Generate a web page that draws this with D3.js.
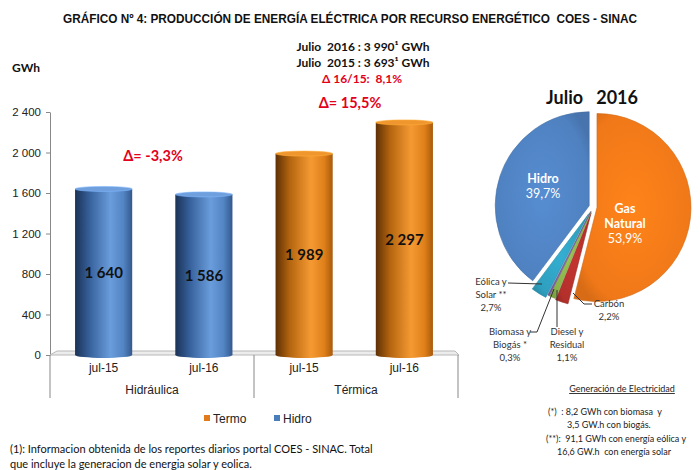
<!DOCTYPE html>
<html>
<head>
<meta charset="utf-8">
<script src="https://cdn.jsdelivr.net/npm/d3@7"></script>
<style>
  body { margin: 0; background: #fff; }
  svg { display: block; }
  text { white-space: pre; }
</style>
</head>
<body>
<svg id="chart" width="700" height="470"></svg>
<script>
// bar chart data
const periods = ["jul-15", "jul-16", "jul-15", "jul-16"];
const barSeries = ["Hidro", "Hidro", "Termo", "Termo"];
const barValues = [1640, 1586, 1989, 2297];
const groups = ["Hidráulica", "Térmica"];
const groupDeltas = ["Δ= -3,3%", "Δ= 15,5%"];
const yTicks = [0, 400, 800, 1200, 1600, 2000, 2400];
const legendItems = ["Termo", "Hidro"];

// pie data (Julio 2016, %)
const pieNames = ["Gas Natural", "Carbón", "Diesel y Residual", "Biomasa y Biogás *", "Eólica y Solar **", "Hidro"];
const pieShares = [53.9, 2.2, 1.1, 0.3, 2.7, 39.7];

const summaryLines = ["Julio  2016 : 3 990¹ GWh", "Julio  2015 : 3 693¹ GWh"];
const summaryDelta = "Δ 16/15:  8,1%";

const svg = d3.select("#chart");
const calibri = "Lato, 'Open Sans', sans-serif";
const arial = "'Liberation Sans', Arial, sans-serif";

const locale = d3.formatLocale({ decimal: ",", thousands: " ", grouping: [3], currency: ["", ""] });
const fmt = locale.format(",d");

// gradients for the cylinders
const defs = svg.append("defs");
function cyl(id, stops) {
  const g = defs.append("linearGradient").attr("id", id).attr("x1", 0).attr("x2", 1).attr("y1", 0).attr("y2", 0);
  stops.forEach(s => g.append("stop").attr("offset", s[0]).attr("stop-color", s[1]));
}
cyl("gHidro", [[0, "#1b3256"], [0.25, "#36609a"], [0.62, "#6a9ddc"], [0.85, "#5283c2"], [1, "#33598d"]]);
cyl("gTermo", [[0, "#5e3005"], [0.25, "#b4650f"], [0.62, "#f59a33"], [0.85, "#e0801a"], [1, "#a85a0c"]]);
const barColor = { Hidro: "#4a7ebb", Termo: "#e07a1a" };
const barTop = { Hidro: "#6f9fdc", Termo: "#f0962e" };

// title
svg.append("text")
  .attr("x", 350).attr("y", 23)
  .attr("text-anchor", "middle")
  .attr("font-family", "'Liberation Sans Narrow', " + arial)
  .attr("font-weight", "bold").attr("font-size", 12.5)
  .attr("textLength", 574).attr("lengthAdjust", "spacingAndGlyphs")
  .attr("fill", "#111")
  .text("GRÁFICO Nº 4: PRODUCCIÓN DE ENERGÍA ELÉCTRICA POR RECURSO ENERGÉTICO  COES - SINAC");

summaryLines.forEach((t, i) => {
  svg.append("text")
    .attr("x", 363).attr("y", 51 + i * 16)
    .attr("text-anchor", "middle")
    .attr("font-family", calibri).attr("font-weight", "bold").attr("font-size", 12)
    .attr("fill", "#111").text(t);
});
svg.append("text")
  .attr("x", 362).attr("y", 83)
  .attr("text-anchor", "middle")
  .attr("font-family", calibri).attr("font-weight", "bold").attr("font-size", 12)
  .attr("fill", "#e3001b").text(summaryDelta);

svg.append("text")
  .attr("x", 12).attr("y", 72)
  .attr("font-family", calibri).attr("font-weight", "bold").attr("font-size", 12)
  .attr("fill", "#111").text("GWh");

// scales
const y = d3.scaleLinear().domain([0, 2400]).range([355, 112]);
const x = d3.scaleBand().domain(d3.range(barValues.length)).range([50, 458])
  .paddingInner(0.43).paddingOuter(0.25);
const xGroup = d3.scaleBand().domain(groups).range([50, 458]);

// y axis
const yAxis = svg.append("g")
  .attr("transform", "translate(50,0)")
  .call(d3.axisLeft(y).tickValues(yTicks).tickFormat(fmt).tickSize(4).tickSizeOuter(0));
yAxis.select(".domain").attr("stroke", "#888");
yAxis.selectAll(".tick line").attr("stroke", "#888");
yAxis.selectAll(".tick text")
  .attr("font-family", arial).attr("font-size", 11.5).attr("fill", "#222").attr("x", -9);

// floor
svg.append("polygon")
  .attr("points", "57,351 455,351 459,355 50,355")
  .attr("fill", "#ececec").attr("stroke", "#b8b8b8").attr("stroke-width", 1);

// category separators
[50, xGroup("Térmica"), 458].forEach(px => {
  svg.append("line")
    .attr("x1", px).attr("x2", px).attr("y1", 355).attr("y2", 398)
    .attr("stroke", "#888");
});

// bars
const bars = svg.append("g").selectAll("g")
  .data(barValues.map((v, i) => ({ v, i, s: barSeries[i] })))
  .join("g");

bars.append("rect")
  .attr("x", d => x(d.i)).attr("width", x.bandwidth())
  .attr("y", d => y(d.v)).attr("height", d => y(0) - y(d.v))
  .attr("fill", d => `url(#g${d.s})`);
bars.append("ellipse")
  .attr("cx", d => x(d.i) + x.bandwidth() / 2).attr("cy", y(0))
  .attr("rx", x.bandwidth() / 2).attr("ry", 3)
  .attr("fill", d => `url(#g${d.s})`);
bars.append("ellipse")
  .attr("cx", d => x(d.i) + x.bandwidth() / 2).attr("cy", d => y(d.v))
  .attr("rx", x.bandwidth() / 2).attr("ry", 2.5)
  .attr("fill", d => barTop[d.s]).attr("stroke", d => d3.color(barTop[d.s]).brighter(0.4)).attr("stroke-width", 0.6);

bars.append("text")
  .attr("x", d => x(d.i) + x.bandwidth() / 2)
  .attr("y", d => (y(d.v) + y(0)) / 2 + 6)
  .attr("text-anchor", "middle")
  .attr("font-family", calibri).attr("font-weight", "bold").attr("font-size", 15)
  .attr("fill", "#111")
  .text(d => fmt(d.v));

// x labels
periods.forEach((p, i) => {
  svg.append("text")
    .attr("x", x(i) + x.bandwidth() / 2).attr("y", 372)
    .attr("text-anchor", "middle")
    .attr("font-family", arial).attr("font-size", 12).attr("fill", "#222")
    .text(p);
});
groups.forEach(g => {
  svg.append("text")
    .attr("x", xGroup(g) + xGroup.bandwidth() / 2).attr("y", 394)
    .attr("text-anchor", "middle")
    .attr("font-family", arial).attr("font-size", 12).attr("fill", "#222")
    .text(g);
});

// delta annotations
groups.forEach((g, gi) => {
  const vals = barValues.filter((v, i) => Math.floor(i / 2) === gi);
  const top = y(d3.max(vals));
  svg.append("text")
    .attr("x", gi === 0 ? 153 : 350)
    .attr("y", gi === 0 ? top - 28 : top - 14)
    .attr("text-anchor", "middle")
    .attr("font-family", calibri).attr("font-weight", "bold").attr("font-size", 14.5)
    .attr("fill", "#e3001b")
    .text(groupDeltas[gi]);
});

// legend
legendItems.forEach((name, i) => {
  const lx = 204 + i * 70;
  svg.append("rect").attr("x", lx).attr("y", 415).attr("width", 6).attr("height", 6)
    .attr("fill", barColor[name]);
  svg.append("text").attr("x", lx + 9).attr("y", 423)
    .attr("font-family", arial).attr("font-size", 12).attr("fill", "#222").text(name);
});

// footnote
["(1): Informacion obtenida de los reportes diarios portal COES - SINAC. Total",
 "que incluye la generacion de energia solar y eolica."].forEach((t, i) => {
  svg.append("text").attr("x", 10).attr("y", 453 + i * 15)
    .attr("font-family", calibri).attr("font-size", 11)
    .attr("fill", "#111").text(t);
});

// ---------- pie ----------
svg.append("text")
  .attr("x", 592).attr("y", 104)
  .attr("text-anchor", "middle")
  .attr("font-family", calibri).attr("font-weight", "bold").attr("font-size", 18)
  .attr("fill", "#111")
  .text("Julio   2016");

const pieColors = ["#f07818", "#b3302b", "#8ab34a", "#7b5fa4", "#2f9fbf", "#4f81c0"];
const explode = [4, 6, 5, 5, 8, 4];
const cx = 593, cy = 207, R = 94;

pieColors.forEach((c, i) => {
  const g = defs.append("radialGradient").attr("id", "p" + i)
    .attr("cx", 0.5).attr("cy", 0.5).attr("r", 0.6);
  g.append("stop").attr("offset", 0).attr("stop-color", d3.color(c).brighter(0.25));
  g.append("stop").attr("offset", 0.85).attr("stop-color", c);
  g.append("stop").attr("offset", 1).attr("stop-color", d3.color(c).darker(0.3));
});

const arcs = d3.pie().sort(null).value(d => d)(pieShares);
const arc = d3.arc().innerRadius(0).outerRadius(R);
const pieG = svg.append("g").attr("transform", `translate(${cx},${cy})`);

pieG.selectAll("path").data(arcs).join("path")
  .attr("d", arc)
  .attr("transform", (d, i) => {
    const a = (d.startAngle + d.endAngle) / 2;
    return `translate(${Math.sin(a) * explode[i]},${-Math.cos(a) * explode[i]})`;
  })
  .attr("fill", (d, i) => `url(#p${i})`)
  .attr("stroke", (d, i) => d3.color(pieColors[i]).darker(0.4))
  .attr("stroke-width", 0.6);

// inner labels
function inner(lines, px, py) {
  lines.forEach((l, k) => {
    svg.append("text")
      .attr("x", px).attr("y", py + k * 15)
      .attr("text-anchor", "middle")
      .attr("font-family", calibri).attr("font-size", 12.5)
      .attr("font-weight", l.b ? "bold" : "normal")
      .attr("fill", "#fff").text(l.t);
  });
}
const pct = i => pieShares[i].toFixed(1).replace(".", ",") + "%";
inner([{ t: "Hidro", b: true }, { t: pct(5) }], 543, 183);
inner([{ t: "Gas", b: true }, { t: "Natural", b: true }, { t: pct(0) }], 625, 213);

// outer labels with leaders
function outer(lines, px, py) {
  lines.forEach((t, k) => {
    svg.append("text")
      .attr("x", px).attr("y", py + k * 13)
      .attr("text-anchor", "middle")
      .attr("font-family", calibri).attr("font-size", 9.5)
      .attr("fill", "#333").text(t);
  });
}
function leader(pts) {
  svg.append("path").attr("d", d3.line()(pts)).attr("fill", "none")
    .attr("stroke", "#333").attr("stroke-width", 1);
}

outer(["Eólica y", "Solar **", pct(4)], 491, 285);
leader([[508, 283], [542, 284]]);
outer(["Biomasa y", "Biogás *", pct(3)], 510, 335);
leader([[530, 332], [537, 332], [554, 289]]);
outer(["Diesel y", "Residual", pct(2)], 567, 335);
leader([[557, 290], [557, 327]]);
outer(["Carbón", pct(1)], 609, 307);
leader([[592, 304], [584, 304], [573, 293]]);

// notes under pie
svg.append("text")
  .attr("x", 622).attr("y", 392)
  .attr("text-anchor", "middle")
  .attr("font-family", calibri).attr("font-size", 9).attr("fill", "#222")
  .attr("text-decoration", "underline")
  .text("Generación de Electricidad");

[["(*)  : 8,2 GWh con biomasa  y", 548, 415],
 ["3,5 GW.h con biogás.", 567, 428],
 ["(**):  91,1 GWh con energía eólica y", 546, 442],
 ["16,6 GW.h  con energía solar", 557, 455]].forEach(r => {
  svg.append("text").attr("x", r[1]).attr("y", r[2])
    .attr("font-family", calibri).attr("font-size", 9).attr("fill", "#222")
    .text(r[0]);
});
</script>
</body>
</html>
